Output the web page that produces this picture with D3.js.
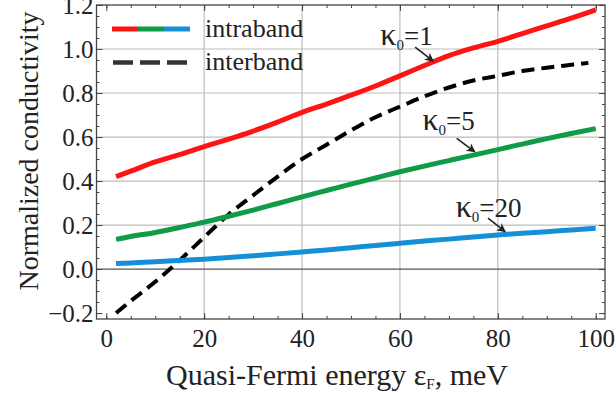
<!DOCTYPE html>
<html>
<head>
<meta charset="utf-8">
<script src="https://cdn.jsdelivr.net/npm/d3@7"></script>
<style>
  body { margin: 0; background: #fff; }
  svg { display: block; font-family: "Liberation Serif", "Times New Roman", serif; }
  svg text { font-family: "Liberation Serif", "Times New Roman", serif; }
</style>
</head>
<body>
<div class="canva"></div>
<script>
// values
const energy = [2, 5, 10, 15, 20, 25, 30, 35, 40, 45, 50, 55, 60, 65, 70, 75, 80, 85, 90, 95, 100]
const intraK1 = [0.42, 0.445, 0.487, 0.52, 0.556, 0.59, 0.627, 0.668, 0.712, 0.75, 0.79, 0.832, 0.878, 0.925, 0.97, 1.005, 1.035, 1.07, 1.105, 1.14, 1.178]
const intraK5 = [0.135, 0.148, 0.166, 0.189, 0.213, 0.24, 0.268, 0.298, 0.328, 0.357, 0.386, 0.414, 0.442, 0.468, 0.493, 0.518, 0.543, 0.568, 0.593, 0.616, 0.638]
const intraK20 = [0.025, 0.028, 0.033, 0.039, 0.045, 0.052, 0.06, 0.069, 0.078, 0.087, 0.097, 0.107, 0.117, 0.127, 0.136, 0.146, 0.155, 0.163, 0.17, 0.178, 0.185]
const interE = [2, 5, 10, 13, 15, 20, 25, 30, 35, 40, 45, 50, 55, 60, 65, 70, 75, 80, 85, 90, 95, 98.5]
const inter = [-0.2, -0.145, -0.058, 0, 0.04, 0.145, 0.248, 0.335, 0.42, 0.5, 0.565, 0.63, 0.69, 0.738, 0.785, 0.825, 0.857, 0.878, 0.9, 0.915, 0.928, 0.937]

const xTicks = [0, 20, 40, 60, 80, 100]
const yTicks = [-0.2, 0, 0.2, 0.4, 0.6, 0.8, 1.0, 1.2]
const xGrid = [20, 40, 60, 80]
const yGrid = [0.2, 0.4, 0.6, 0.8, 1.0]

const red = "#ff1414", green = "#0f9b47", blue = "#1590d6"
const serif = '"Liberation Serif", "Times New Roman", serif'

const W = 616, H = 393
const pLeft = 96.5, pRight = 605, pTop = 5, pBottom = 319

const x = d3.scaleLinear().domain([-2, 101.9]).range([pLeft, pRight])
const y = d3.scaleLinear().domain([-0.227, 1.2]).range([pBottom, pTop])

const svg = d3.select('.canva').append('svg')
    .attr('width', W)
    .attr('height', H)

// grid
svg.selectAll('.gx').data(xGrid).enter().append('line')
    .attr('x1', d => x(d)).attr('x2', d => x(d))
    .attr('y1', pTop).attr('y2', pBottom)
    .attr('stroke', '#bdbdbd').attr('stroke-width', 1.2)
svg.selectAll('.gy').data(yGrid).enter().append('line')
    .attr('x1', pLeft).attr('x2', pRight)
    .attr('y1', d => y(d)).attr('y2', d => y(d))
    .attr('stroke', '#bdbdbd').attr('stroke-width', 1.2)
svg.append('line')
    .attr('x1', pLeft).attr('x2', pRight)
    .attr('y1', y(0)).attr('y2', y(0))
    .attr('stroke', '#555').attr('stroke-width', 1.3)

// minor ticks
const xMinor = d3.range(0, 101, 5)
const yMinor = d3.range(-0.2, 1.201, 0.05)
function addAxis(axis, tr) {
    const g = svg.append('g').attr('transform', tr).call(axis)
    g.select('.domain').remove()
    g.attr('font-family', serif).attr('font-size', 25)
    g.selectAll('line').attr('stroke', '#444')
    return g
}
addAxis(d3.axisBottom(x).tickValues(xMinor).tickSize(-3).tickFormat(''), `translate(0,${pBottom})`)
addAxis(d3.axisTop(x).tickValues(xMinor).tickSize(-3).tickFormat(''), `translate(0,${pTop})`)
addAxis(d3.axisLeft(y).tickValues(yMinor).tickSize(-3).tickFormat(''), `translate(${pLeft},0)`)
addAxis(d3.axisRight(y).tickValues(yMinor).tickSize(-3).tickFormat(''), `translate(${pRight},0)`)

// major ticks + labels
addAxis(d3.axisBottom(x).tickValues(xTicks).tickSize(-6).tickPadding(10).tickFormat(d3.format('d')), `translate(0,${pBottom})`)
addAxis(d3.axisLeft(y).tickValues(yTicks).tickSize(-6).tickPadding(3).tickFormat(d3.format('.1f')), `translate(${pLeft},0)`)
addAxis(d3.axisTop(x).tickValues(xTicks).tickSize(-6).tickFormat(''), `translate(0,${pTop})`)
addAxis(d3.axisRight(y).tickValues(yTicks).tickSize(-6).tickFormat(''), `translate(${pRight},0)`)
svg.selectAll('.tick text').attr('fill', '#222')

// frame
svg.append('rect')
    .attr('x', pLeft).attr('y', pTop)
    .attr('width', pRight - pLeft).attr('height', pBottom - pTop)
    .attr('fill', 'none').attr('stroke', '#444').attr('stroke-width', 1.3)

// curves
const line = d3.line().curve(d3.curveMonotoneX).x(d => x(d[0])).y(d => y(d[1]))
function drawSeries(xs, ys, color, dash, w) {
    svg.append('path')
        .attr('d', line(d3.zip(xs, ys)))
        .attr('fill', 'none')
        .attr('stroke', color)
        .attr('stroke-width', w)
        .attr('stroke-dasharray', dash)
}
drawSeries(interE, inter, '#000', '13,7', 4)
drawSeries(energy, intraK20, blue, null, 5)
drawSeries(energy, intraK5, green, null, 5)
drawSeries(energy, intraK1, red, null, 5)

// legend
const legColors = [red, green, blue]
svg.selectAll('.leg').data(legColors).enter().append('line')
    .attr('x1', (d, i) => 112 + i * 26).attr('x2', (d, i) => 112 + (i + 1) * 26)
    .attr('y1', 29).attr('y2', 29)
    .attr('stroke', d => d).attr('stroke-width', 5)
svg.append('line')
    .attr('x1', 113).attr('x2', 187).attr('y1', 62.5).attr('y2', 62.5)
    .attr('stroke', '#333').attr('stroke-width', 4.5).attr('stroke-dasharray', '20,7')
svg.append('text').attr('x', 205).attr('y', 37).attr('font-size', 26).attr('fill', '#222').text('intraband')
svg.append('text').attr('x', 205).attr('y', 70).attr('font-size', 26).attr('fill', '#222').text('interband')

// annotations
svg.append('defs').append('marker')
    .attr('id', 'ah').attr('viewBox', '0 0 10 10')
    .attr('refX', 9).attr('refY', 5)
    .attr('markerWidth', 9).attr('markerHeight', 9)
    .attr('markerUnits', 'userSpaceOnUse')
    .attr('orient', 'auto')
    .append('path').attr('d', 'M0,0 L10,5 L0,10 L3,5 Z').attr('fill', '#222')

const labels = [
    {k: '1', tx: 56.0, ty: 1.018, ax: [63.1, 66.8], ay: [1.009, 0.945]},
    {k: '5', tx: 64.6, ty: 0.63, ax: [71.6, 75.3], ay: [0.594, 0.533]},
    {k: '20', tx: 71.4, ty: 0.238, ax: [78.0, 81.5], ay: [0.231, 0.17]}
]
labels.forEach(l => {
    const t = svg.append('text').attr('x', x(l.tx)).attr('y', y(l.ty)).attr('font-size', 27).attr('fill', '#222')
    t.append('tspan').attr('font-size', 32).text('κ')
    t.append('tspan').attr('font-size', 15).attr('dy', 5).text('0')
    t.append('tspan').attr('dy', -5).text('=' + l.k)
    svg.append('line')
        .attr('x1', x(l.ax[0])).attr('y1', y(l.ay[0]))
        .attr('x2', x(l.ax[1])).attr('y2', y(l.ay[1]))
        .attr('stroke', '#222').attr('stroke-width', 1.6)
        .attr('marker-end', 'url(#ah)')
})

// axis titles
const xt = svg.append('text').attr('x', 337).attr('y', 385)
    .attr('text-anchor', 'middle').attr('font-size', 30).attr('fill', '#222')
xt.append('tspan').text('Quasi-Fermi energy ε')
xt.append('tspan').attr('font-size', 15).attr('dy', 4).text('F')
xt.append('tspan').attr('dy', -4).text(', meV')

svg.append('text')
    .attr('transform', 'translate(38,151) rotate(-90)')
    .attr('text-anchor', 'middle').attr('font-size', 28).attr('fill', '#222')
    .text('Normalized conductivity')
</script>
</body>
</html>
